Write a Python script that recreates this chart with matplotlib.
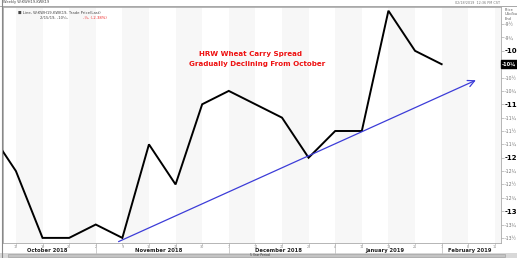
import matplotlib
matplotlib.use('Agg')
import matplotlib.pyplot as plt
import matplotlib.dates as mdates
import numpy as np
import pandas as pd

# weekly (Friday) closes, HRW wheat carry spread, USc/bu
dates = pd.to_datetime([
  '2018-10-05', '2018-10-12', '2018-10-19', '2018-10-26', '2018-11-02',
  '2018-11-09', '2018-11-16', '2018-11-23', '2018-11-30', '2018-12-07',
  '2018-12-14', '2018-12-21', '2018-12-28', '2019-01-04', '2019-01-11',
  '2019-01-18', '2019-01-25', '2019-02-01',
])
values = [-11.5, -12.25, -13.5, -13.5, -13.25, -13.5, -11.75, -12.5, -11.0,
          -10.75, -11.0, -11.25, -12.0, -11.5, -11.5, -9.25, -10.0, -10.25]

# hand drawn trend arrow
trend_dates = pd.to_datetime(['2018-11-08', '2019-02-10'])
trend_values = [-13.57, -10.55]

tick_dates = pd.date_range('2018-10-12', '2019-02-15', freq='7D')
months = [('October 2018', '2018-10-01', '2018-11-01'),
          ('November 2018', '2018-11-01', '2018-12-06'),
          ('December 2018', '2018-12-06', '2019-01-03'),
          ('January 2019', '2019-01-03', '2019-01-31'),
          ('February 2019', '2019-01-31', '2019-03-01')]
month_starts = pd.to_datetime(['2018-11-02', '2018-12-07', '2019-01-04', '2019-02-01'])

last_value = -10.25
title_lines = ['HRW Wheat Carry Spread', 'Gradually Declining From October']

W, H = 517, 258
fig = plt.figure(figsize=(W / 100, H / 100), dpi=100)
ax = fig.add_axes([3 / W, 1 - 242.7 / H, (500.7 - 3) / W, (242.7 - 7) / H])

x0 = mdates.date2num(pd.Timestamp('2018-10-12')) - 3.4
x1 = mdates.date2num(pd.Timestamp('2018-10-12')) + 18.22 * 7
ax.set_xlim(x0, x1)
ax.set_ylim(-13.59, -9.18)

# alternating weekly bands
tnum = mdates.date2num(tick_dates)
for i in range(0, len(tnum), 2):
  right = tnum[i + 1] if i + 1 < len(tnum) else x1
  ax.axvspan(tnum[i], right, color='#f7f7f7', lw=0, zorder=0)

ax.plot(dates, values, color='black', lw=1.4, zorder=3, solid_joinstyle='miter')
ax.annotate('', xy=(trend_dates[1], trend_values[1]),
            xytext=(trend_dates[0], trend_values[0]),
            arrowprops=dict(arrowstyle='->', color='#3c3cd8', lw=0.9,
                            mutation_scale=12, shrinkA=0, shrinkB=0),
            zorder=4)

ax.text(0.498, 0.799, title_lines[0], transform=ax.transAxes, color='#ee1111',
        fontsize=5.15, fontweight='bold', ha='center', va='center')
ax.text(0.510, 0.758, title_lines[1], transform=ax.transAxes, color='#ee1111',
        fontsize=5.15, fontweight='bold', ha='center', va='center')

# right price axis
ax.yaxis.tick_right()
yt = np.arange(-13.5, -9.4, 0.25)
fr = {0.0: '', 0.25: '\u00bc', 0.5: '\u00bd', 0.75: '\u00be'}

def lab(v):
  a = abs(v)
  whole = int(a)
  return '-%d%s' % (whole, fr[round(a - whole, 2)])

ax.set_yticks(yt)
ax.set_yticklabels([lab(v) for v in yt])
ax.tick_params(axis='y', length=2, width=0.4, color='#999999', pad=1)
for v, t in zip(yt, ax.get_yticklabels()):
  if v == int(v):
    t.set_fontsize(5)
    t.set_fontweight('bold')
    t.set_color('black')
  else:
    t.set_fontsize(3.3)
    t.set_color('#777777')
  if v == last_value:
    t.set_visible(False)

ax.text(1.003, last_value, lab(last_value), transform=ax.get_yaxis_transform(),
        color='white', fontsize=3.6, fontweight='bold', va='center', ha='left',
        bbox=dict(boxstyle='square,pad=0.25', fc='black', ec='black'),
        clip_on=False)
ax.text(1.008, 0.995, 'Price\nUSc/bu\nEnd', transform=ax.transAxes,
        fontsize=2.6, color='#555555', va='top', ha='left', linespacing=1.1)

# date axis
ax.set_xticks(tnum)
ax.set_xticklabels([str(d.day) for d in tick_dates])
ax.tick_params(axis='x', length=1.5, width=0.4, color='#aaaaaa', pad=0.3,
               labelsize=2.4, labelcolor='#888888')
for name, a, b in months:
  lo = max(mdates.date2num(pd.Timestamp(a)), x0)
  hi = min(mdates.date2num(pd.Timestamp(b)), x1)
  ax.text((lo + hi) / 2, -0.032, name, transform=ax.get_xaxis_transform(),
          fontsize=3.8, fontweight='bold', ha='center', va='center', color='#222222')
for m in month_starts:
  ax.plot([m, m], [-0.005, -0.045], transform=ax.get_xaxis_transform(),
          color='#bbbbbb', lw=0.5, clip_on=False)

for s in ax.spines.values():
  s.set_color('#aaaaaa')
  s.set_linewidth(0.6)

# legend / header text
ax.text(0.03, 0.975, '\u25a0 Line, W:KWH19-KWK19, Trade Price(Last)',
        transform=ax.transAxes, fontsize=2.7, color='#444444', va='center')
ax.text(0.075, 0.952, '2/15/19, -10\u00bc,', transform=ax.transAxes,
        fontsize=2.7, color='#444444', va='center')
ax.text(0.16, 0.952, '-\u00bc, (-2.38%)', transform=ax.transAxes,
        fontsize=2.7, color='#ee2222', va='center')
fig.text(3 / W, 1 - 2.5 / H, 'Weekly W:KWH19-KWK19', fontsize=2.6,
         color='#444444', va='center')
fig.text(500 / W, 1 - 2.5 / H, '02/18/2019  12:36 PM CST', fontsize=2.4,
         color='#777777', va='center', ha='right')
fig.add_artist(plt.Line2D([0, 1], [1 - 5.5 / H, 1 - 5.5 / H], color='#999999', lw=0.6))

# scrollbar strip at bottom
fig.add_artist(plt.Rectangle((0, 0), 1, 5 / H, color='#d8d8d8', lw=0, zorder=-2))
fig.add_artist(plt.Rectangle((8 / W, 1 / H), (505 - 8) / W, 3 / H,
                             fc='#c4c4c4', ec='#999999', lw=0.4, zorder=-1))
fig.text(260 / W, 2.5 / H, '5 Year Period', fontsize=2.2, color='#333333',
         ha='center', va='center')
fig.add_artist(plt.Line2D([1.5 / W, 1.5 / W], [0, 1], color='#888888', lw=0.8))

fig.savefig('out.png', dpi=100)
